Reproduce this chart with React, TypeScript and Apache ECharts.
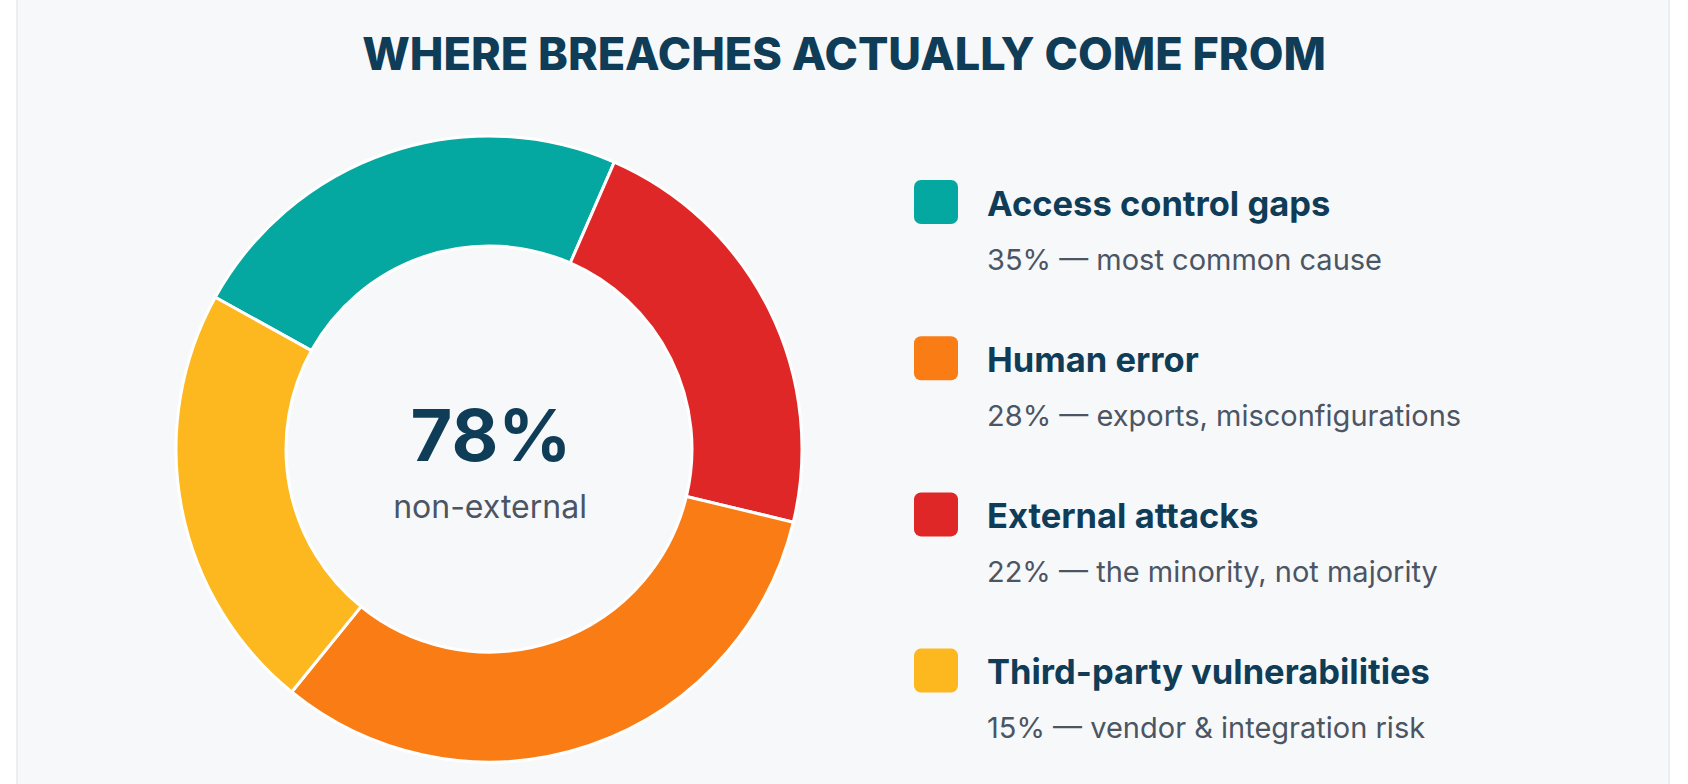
import React, { useEffect, useRef } from "react";
import * as echarts from "echarts";

// ---- data ----
const titleText = "WHERE BREACHES ACTUALLY COME FROM";
const categories = ["Access control gaps", "Human error", "External attacks", "Third-party vulnerabilities"];
const statedPercents = [35, 28, 22, 15];
const descriptions = ["most common cause", "exports, misconfigurations", "the minority, not majority", "vendor & integration risk"];
// ring segments as drawn in the picture, clockwise starting with the teal segment
const ringCategories = ["Access control gaps", "External attacks", "Human error", "Third-party vulnerabilities"];
const ringShares = [23.5, 22.2, 32.1, 22.2];
const centerValue = "78%";
const centerLabel = "non-external";

// ---- styles ----
const colorMap: Record<string, string> = {
  "Access control gaps": "#05a8a0",
  "Human error": "#f97c15",
  "External attacks": "#df2727",
  "Third-party vulnerabilities": "#fdb820",
};
const navy = "#0f3c57";
const gray = "#4b5563";
const FONT = "Inter, 'Noto Sans', sans-serif";

export default function App() {
  const ref = useRef<HTMLDivElement>(null);
  useEffect(() => {
    if (!ref.current) return;
    const chart = echarts.init(ref.current, undefined, { renderer: "svg" });

    const legendEls: any[] = [];
    const legendX = 914;
    const legendTop = 180;
    const legendStep = 156.2;
    categories.forEach((name, i) => {
      const top = legendTop + i * legendStep;
      legendEls.push({
        type: "rect",
        shape: { x: legendX, y: top, width: 44, height: 44, r: 7 },
        style: { fill: colorMap[name] },
      });
      legendEls.push({
        type: "text",
        x: 987,
        y: top + 23,
        style: {
          text: name,
          fill: navy,
          font: `700 34.5px ${FONT}`,
          textAlign: "left",
          textVerticalAlign: "middle",
        },
      });
      legendEls.push({
        type: "text",
        x: 987,
        y: top + 79,
        style: {
          text: `${statedPercents[i]}% \u2014 ${descriptions[i]}`,
          fill: gray,
          font: `400 29px ${FONT}`,
          textAlign: "left",
          textVerticalAlign: "middle",
        },
      });
    });

    chart.setOption({
      animation: false,
      graphic: [
        {
          type: "rect",
          z: -10,
          shape: { x: 17, y: -2, width: 1652, height: 790 },
          style: { fill: "#f7f8fa", stroke: "#e6e9ee", lineWidth: 1.5 },
        },
        {
          type: "text",
          x: 844,
          y: 53,
          style: {
            text: titleText,
            fill: navy,
            font: `800 45px ${FONT}`,
            textAlign: "center",
            textVerticalAlign: "middle",
          },
        },
        {
          type: "text",
          x: 491,
          y: 434,
          style: {
            text: centerValue,
            fill: navy,
            font: `700 72px ${FONT}`,
            textAlign: "center",
            textVerticalAlign: "middle",
          },
        },
        {
          type: "text",
          x: 490,
          y: 506,
          style: {
            text: centerLabel,
            fill: gray,
            font: `400 32px ${FONT}`,
            textAlign: "center",
            textVerticalAlign: "middle",
          },
        },
        ...legendEls,
      ],
      series: [
        {
          type: "pie",
          center: [489, 449],
          radius: [203, 313],
          startAngle: 151,
          clockwise: true,
          silent: true,
          label: { show: false },
          labelLine: { show: false },
          itemStyle: { borderColor: "#ffffff", borderWidth: 3 },
          data: ringCategories.map((name, i) => ({
            name,
            value: ringShares[i],
            itemStyle: { color: colorMap[name] },
          })),
        },
      ],
    });
    return () => chart.dispose();
  }, []);

  return (
    <div style={{ position: "fixed", left: 0, top: 0, width: 1688, height: 784, background: "#ffffff" }}>
      <div ref={ref} style={{ width: 1688, height: 784 }} />
    </div>
  );
}
